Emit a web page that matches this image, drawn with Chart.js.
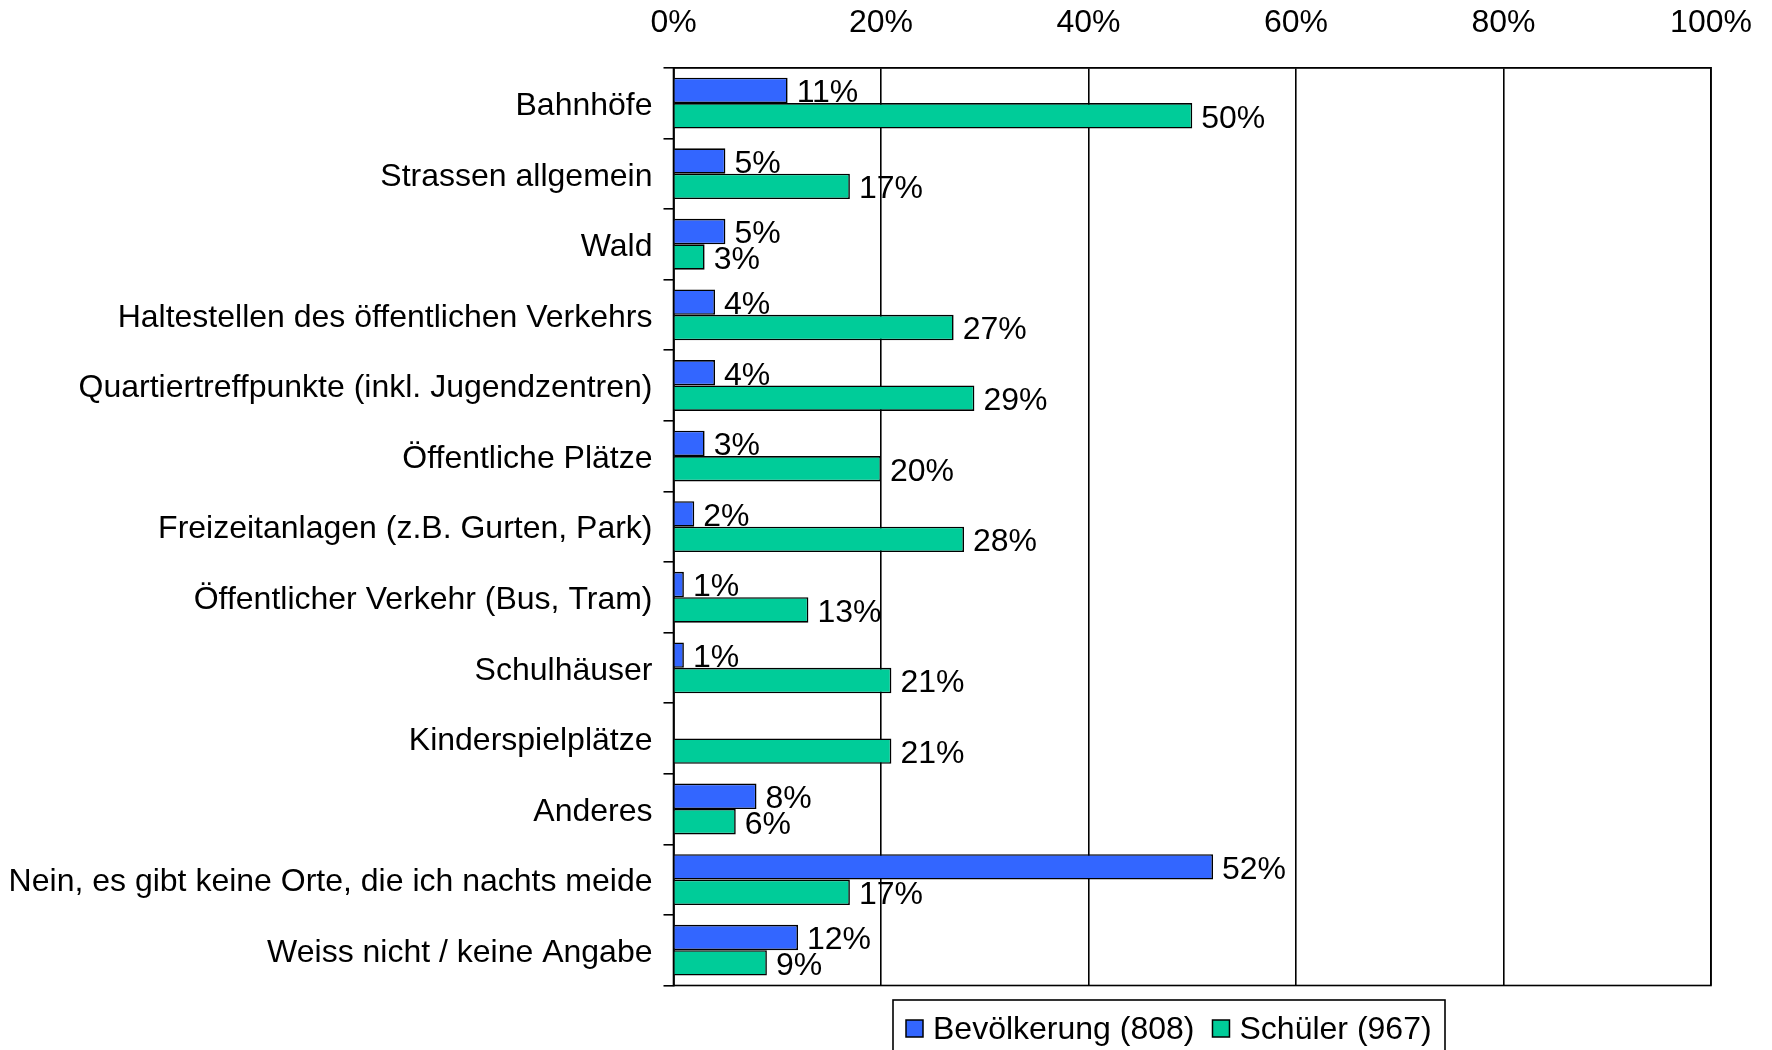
<!DOCTYPE html>
<html><head><meta charset="utf-8">
<script src="https://cdn.jsdelivr.net/npm/chart.js@4/dist/chart.umd.min.js"></script>
<style>html,body{margin:0;padding:0;background:#fff}canvas{display:block}</style>
</head><body>
<canvas id="c" width="1772" height="1050"></canvas>
<script>
const categories = [
  "Bahnhöfe","Strassen allgemein","Wald","Haltestellen des öffentlichen Verkehrs",
  "Quartiertreffpunkte (inkl. Jugendzentren)","Öffentliche Plätze","Freizeitanlagen (z.B. Gurten, Park)",
  "Öffentlicher Verkehr (Bus, Tram)","Schulhäuser","Kinderspielplätze","Anderes",
  "Nein, es gibt keine Orte, die ich nachts meide","Weiss nicht / keine Angabe"
];
const bevoelkerung = [11,5,5,4,4,3,2,1,1,null,8,52,12];
const schueler = [50,17,3,27,29,20,28,13,21,21,6,17,9];
const seriesNames = ["Bevölkerung (808)","Schüler (967)"];
const xTicks = [0,20,40,60,80,100];

const FONT = "Liberation Sans, Arial, sans-serif";
const FS = 32;

const PLOT_LEFT = 673.5, PLOT_TOP = 67.8, PLOT_RIGHT = 1711, PLOT_BOTTOM = 985.5;

const framePlugin = {
  id:'frame',
  afterDatasetsDraw(chart){
    const {ctx, chartArea:a} = chart;
    ctx.save();
    ctx.strokeStyle='#000'; ctx.lineWidth=1.6;
    ctx.strokeRect(a.left, a.top, a.right-a.left, a.bottom-a.top);
    ctx.restore();
  },
  afterDraw(chart){
    const ctx = chart.ctx;
    ctx.save();
    ctx.font = FS+"px "+FONT; ctx.fillStyle='#000';
    ctx.textAlign='left'; ctx.textBaseline='middle';
    chart.data.datasets.forEach((ds,di)=>{
      const meta = chart.getDatasetMeta(di);
      meta.data.forEach((bar,i)=>{
        const v = ds.data[i];
        if(v==null) return;
        ctx.fillText(v+"%", bar.x+9, bar.y+3);
      });
    });
    const lx = 893, ly = 1000;
    const lw = 552;
    ctx.strokeStyle='#000'; ctx.lineWidth=1.6;
    ctx.strokeRect(lx, ly, lw, 80);
    let x = lx+13;
    const cy = 1030;
    chart.data.datasets.forEach((ds,di)=>{
      ctx.fillStyle = ds.backgroundColor;
      ctx.fillRect(x, cy-10, 17, 17);
      ctx.lineWidth=1.5; ctx.strokeRect(x, cy-10, 17, 17);
      ctx.fillStyle='#000';
      ctx.fillText(ds.label, x+27, cy);
      x += 27 + ctx.measureText(ds.label).width + 18;
    });
    ctx.restore();
  }
};

const chart = new Chart(document.getElementById('c'), {
  type:'bar',
  data:{
    labels: categories,
    datasets:[
      {label:seriesNames[0], data:bevoelkerung, backgroundColor:'#3366FF', borderColor:'#000', borderWidth:1.6,
       categoryPercentage:0.72, barPercentage:1.0},
      {label:seriesNames[1], data:schueler, backgroundColor:'#00CC99', borderColor:'#000', borderWidth:1.6,
       categoryPercentage:0.72, barPercentage:1.0}
    ]
  },
  options:{
    indexAxis:'y',
    responsive:false, animation:false,
    layout:{autoPadding:false, padding:{left:0, top:0, right:1772-PLOT_RIGHT, bottom:1050-PLOT_BOTTOM}},
    plugins:{legend:{display:false}, tooltip:{enabled:false}},
    scales:{
      x:{
        position:'top', min:0, max:100,
        afterBuildTicks(s){ s.ticks = xTicks.map(v=>({value:v})); },
        afterFit(s){ s.height = PLOT_TOP; s.paddingLeft = 0; s.paddingRight = 0; },
        ticks:{callback:v=>v+"%", font:{family:FONT,size:FS}, color:'#000', padding:25, maxRotation:0},
        grid:{color:'#000', lineWidth:1.6, drawTicks:false},
        border:{display:true, color:'#000', width:1.6}
      },
      y:{
        afterFit(s){ s.width = PLOT_LEFT; s.paddingTop = 0; s.paddingBottom = 0; },
        ticks:{font:{family:FONT,size:FS}, color:'#000', padding:11, labelOffset:3},
        grid:{drawOnChartArea:false, drawTicks:true, tickLength:10, color:'#000', lineWidth:1.6},
        border:{display:true, color:'#000', width:1.6}
      }
    }
  },
  plugins:[framePlugin]
});
</script>
</body></html>
